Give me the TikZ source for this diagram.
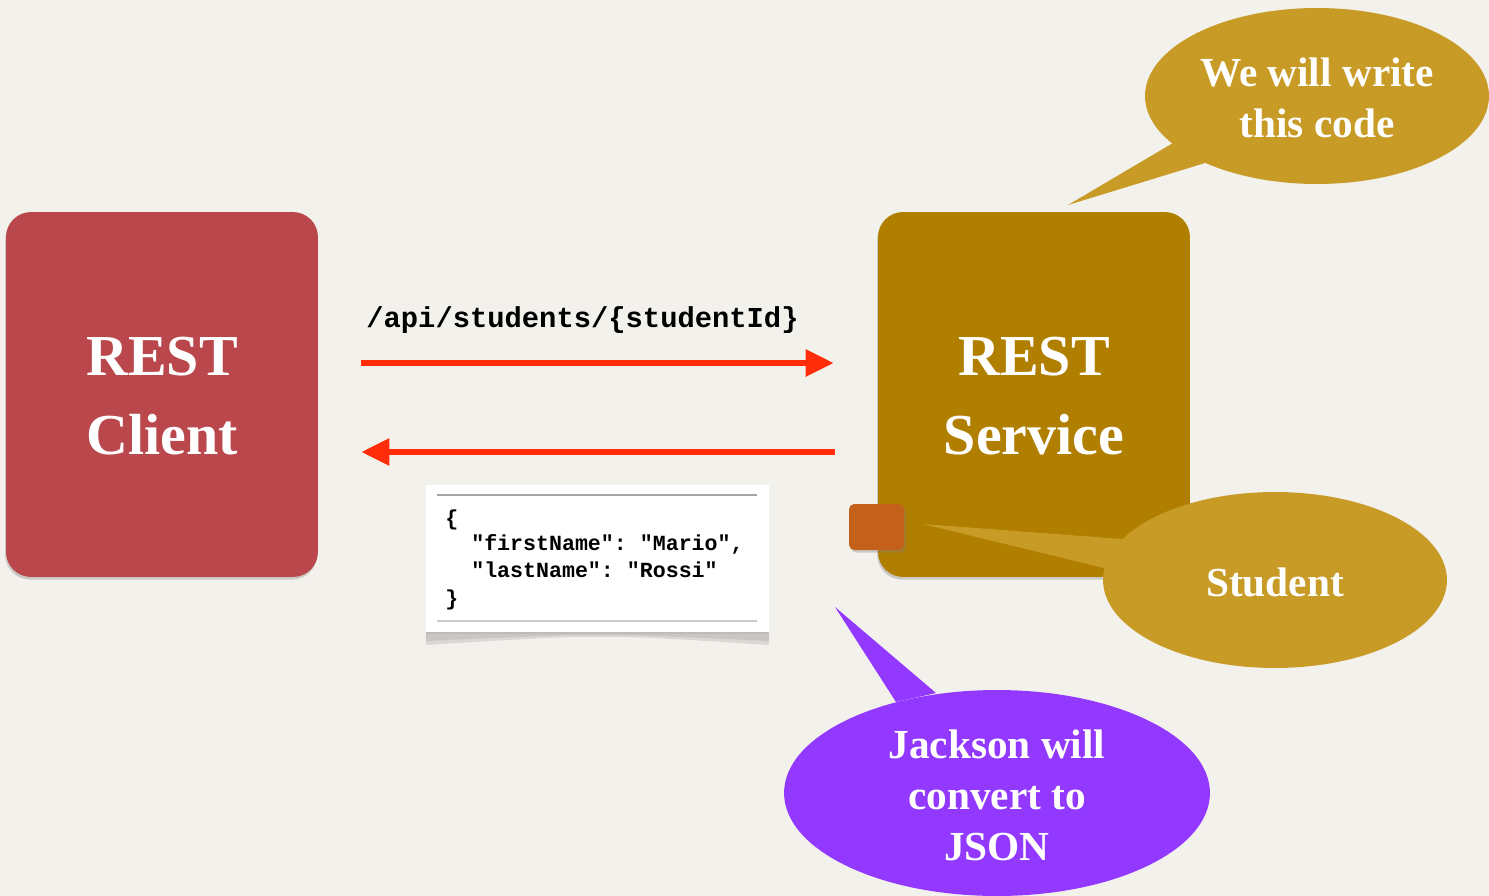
\documentclass[tikz,border=0pt]{standalone}
\usepackage{fontspec}
\setmainfont{Liberation Serif}
\setmonofont{Liberation Mono}
\usetikzlibrary{shapes.geometric,arrows.meta,shadows}
\definecolor{bgc}{HTML}{F3F1EC}
\definecolor{clientc}{HTML}{B9474B}
\definecolor{servicec}{HTML}{B07F00}
\definecolor{goldc}{HTML}{C89B26}
\definecolor{orangec}{HTML}{C3611A}
\definecolor{purplec}{HTML}{9339FF}
\definecolor{redc}{HTML}{FF2D0A}
\begin{document}
\begin{tikzpicture}[x=0.02cm,y=-0.02cm,
  box/.style={rounded corners=0.5cm, minimum width=6.24cm, minimum height=7.3cm, inner sep=0pt,
    drop shadow={shadow xshift=-0.5pt, shadow yshift=-1.5pt, opacity=0.35}},
  bigtxt/.style={text=white, align=center, font=\fontsize{33}{45}\selectfont\bfseries},
  bubtxt/.style={text=white, align=center, font=\fontsize{23.5}{29}\selectfont\bfseries},
  bubble/.style={ellipse, inner sep=0pt},
  arr/.style={draw=redc, line width=3.4pt, -{Triangle[length=0.56cm,width=0.52cm]}},
  jtxt/.style={anchor=base west, inner sep=0pt, font=\fontsize{12.3}{15}\selectfont\ttfamily\bfseries},
]
\fill[bgc] (0,0) rectangle (1489,896);
\useasboundingbox (0,0) rectangle (1489,896);

% boxes
\node[box, fill=clientc] (client) at (162,394.5) {};
\node[bigtxt] (clienttxt) at (162,396) {REST\\Client};
\node[box, fill=servicec] (service) at (1034,394.5) {};
\node[bigtxt] (servicetxt) at (1034,396) {REST\\Service};

% top bubble
\fill[goldc] (1068,205) -- (1173,143) -- (1205,163) -- cycle;
\node[bubble, fill=goldc, minimum width=6.88cm, minimum height=3.52cm] (topbub) at (1317,96) {};
\node[bubtxt] (toptxt) at (1317,98) {We will write\\this code};

% orange object
\node[fill=orangec, rounded corners=3pt, minimum width=1.1cm, minimum height=0.92cm, inner sep=0pt,
  drop shadow={shadow xshift=1pt, shadow yshift=-1.5pt, opacity=0.35}] (obj) at (876.5,527) {};

% student bubble
\fill[goldc] (923,524) -- (1122,539) -- (1104,568) -- cycle;
\node[bubble, fill=goldc, minimum width=6.88cm, minimum height=3.52cm] (studbub) at (1275,580) {};
\node[bubtxt] (studtxt) at (1275,582) {Student};

% purple bubble
\fill[purplec] (835,607) -- (896,702) -- (936,693) -- cycle;
\node[bubble, fill=purplec, minimum width=8.52cm, minimum height=4.12cm] (jackbub) at (997,793) {};
\node[bubtxt] (jacktxt) at (997,795) {Jackson will\\convert to\\JSON};

% arrows
\draw[arr] ([shift={(43,-31.5)}]client.east) -- ([shift={(-44,-31.5)}]service.west);
\draw[arr] ([shift={(-43,57.5)}]service.west) -- ([shift={(43,57.5)}]client.east);
\node[anchor=west, inner sep=0pt, font=\fontsize{16.4}{20}\selectfont\ttfamily\bfseries] (api) at (366,320) {/api/students/\{studentId\}};

% JSON card
\fill[black, opacity=0.10] (426,630) -- (769,630) -- (769,645) .. controls (600,634) .. (426,645) -- cycle;
\fill[black, opacity=0.08] (426,630) -- (769,630) -- (769,641) .. controls (600,633) .. (426,641) -- cycle;
\node[fill=white, minimum width=6.86cm, minimum height=2.94cm, inner sep=0pt,
  drop shadow={shadow xshift=0pt, shadow yshift=-1pt, opacity=0.15}] (json) at (597.5,558.5) {};
\draw[black!35, line width=0.6pt] (437,495) -- (757,495);
\draw[black!20, line width=0.6pt] (437,621) -- (757,621);
\node[jtxt] (j1) at (445,525) {\{};
\node[jtxt] (j2) at (445,550) {\ \ "firstName": "Mario",};
\node[jtxt] (j3) at (445,577) {\ \ "lastName": "Rossi"};
\node[jtxt] (j4) at (445,605) {\}};
\end{tikzpicture}
\end{document}
